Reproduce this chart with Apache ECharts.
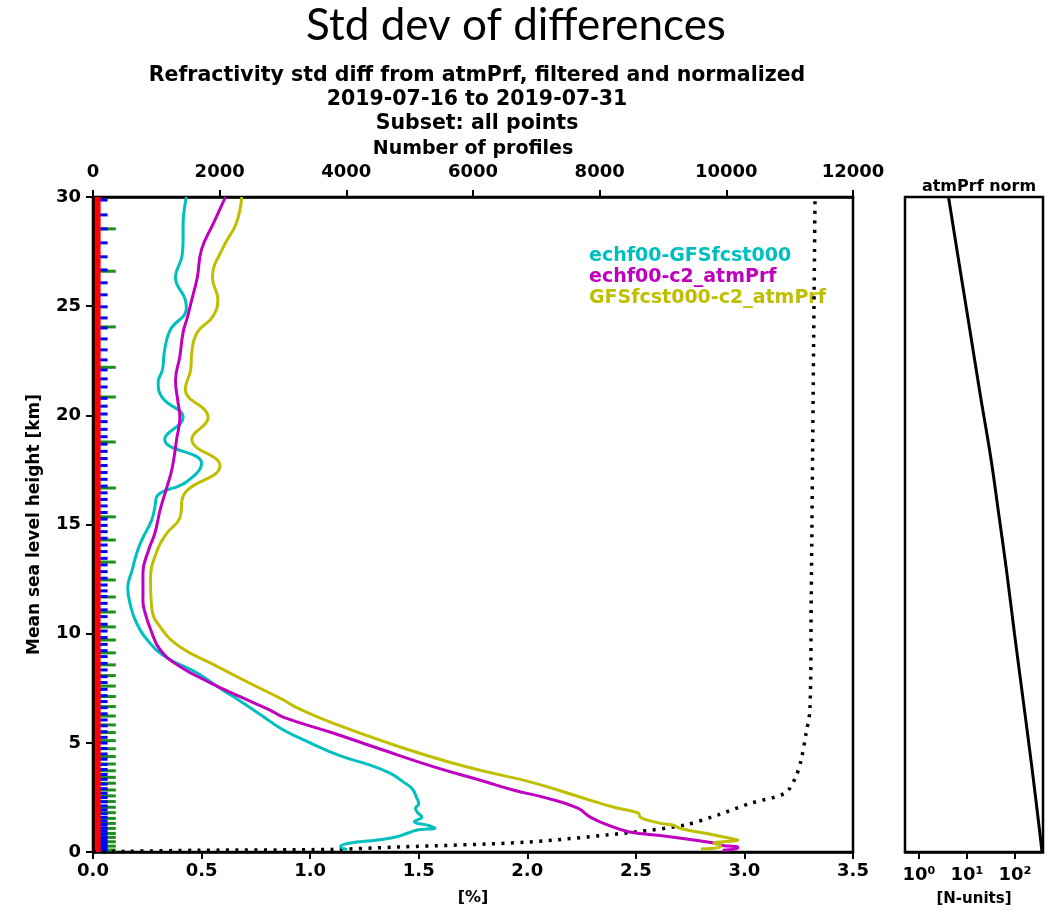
<!DOCTYPE html>
<html>
<head>
<meta charset="utf-8">
<title>Std dev of differences</title>
<script src="https://cdn.jsdelivr.net/npm/echarts@6/dist/echarts.min.js"></script>
<style>
  html, body { margin: 0; padding: 0; background: #ffffff; }
  #chart { width: 1058px; height: 912px; }
</style>
</head>
<body>
<div id="chart"></div>
<script>
// ---- data -------------------------------------------------------------
// Normalized refractivity std differences: [height km, std diff %]
const cyanProfile = [
  [0.1, 1.17], [0.25, 1.14], [0.4, 1.18], [0.55, 1.31], [0.7, 1.40], [0.87, 1.45],
  [1.0, 1.49], [1.1, 1.575], [1.2, 1.55], [1.4, 1.48], [1.6, 1.515], [1.8, 1.495],
  [2.0, 1.485], [2.2, 1.50], [2.5, 1.49], [2.9, 1.47], [3.2, 1.43], [3.6, 1.37],
  [4.0, 1.27], [4.4, 1.14], [5.0, 1.0], [5.6, 0.875], [6.3, 0.77], [7.0, 0.665],
  [7.4, 0.60], [8.2, 0.48], [8.9, 0.34], [9.6, 0.26], [10.5, 0.20],
  [11.4, 0.17], [12.1, 0.16], [12.9, 0.18], [13.8, 0.205], [14.4, 0.23], [15.2, 0.27],
  [15.8, 0.285], [16.3, 0.295], [16.95, 0.43], [17.8, 0.50], [18.9, 0.33], [19.9, 0.415],
  [20.8, 0.32], [21.5, 0.30], [22.1, 0.32], [23.0, 0.33], [23.9, 0.355], [24.9, 0.43],
  [25.3, 0.425], [26.3, 0.38], [27.3, 0.41], [28.0, 0.415], [28.8, 0.415], [29.4, 0.42],
  [30.0, 0.43]
];
const magentaProfile = [
  [0.08, 2.90], [0.15, 2.96], [0.22, 2.97], [0.3, 2.90], [0.41, 2.86], [0.73, 2.63],
  [0.92, 2.47], [1.24, 2.37], [1.6, 2.29], [2.02, 2.23], [2.47, 2.09], [2.84, 1.935],
  [3.3, 1.78], [3.9, 1.57], [4.67, 1.336], [5.45, 1.105], [6.18, 0.875], [6.5, 0.815],
  [7.1, 0.68], [7.75, 0.54], [8.5, 0.40], [9.25, 0.31], [10.2, 0.265], [10.95, 0.24],
  [11.5, 0.23], [12.8, 0.23], [13.8, 0.255], [14.6, 0.285], [15.7, 0.31], [16.7, 0.34],
  [17.6, 0.365], [18.9, 0.385], [19.9, 0.40], [20.7, 0.39], [21.6, 0.38], [22.7, 0.40],
  [23.8, 0.415], [24.5, 0.435], [25.3, 0.455], [26.3, 0.48], [27.6, 0.50], [28.8, 0.555],
  [30.0, 0.61]
];
const yellowProfile = [
  [0.14, 2.80], [0.23, 2.89], [0.3, 2.89], [0.41, 2.86], [0.45, 2.88], [0.55, 2.97],
  [0.6, 2.95], [0.78, 2.86], [1.0, 2.74], [1.1, 2.70], [1.24, 2.67], [1.3, 2.62],
  [1.47, 2.55], [1.6, 2.52], [1.79, 2.51], [2.06, 2.395], [2.52, 2.243], [3.21, 2.013],
  [3.89, 1.723], [4.81, 1.414], [5.9, 1.105], [6.6, 0.94], [7.0, 0.87], [7.74, 0.72],
  [8.66, 0.54], [9.4, 0.40], [10.3, 0.31], [11.2, 0.27], [12.5, 0.265], [13.8, 0.295],
  [14.6, 0.34], [15.3, 0.40], [16.3, 0.415], [17.7, 0.585], [18.9, 0.455], [19.9, 0.53],
  [21.2, 0.425], [22.1, 0.45], [22.9, 0.455], [23.8, 0.48], [24.5, 0.55], [25.3, 0.575],
  [26.3, 0.55], [27.7, 0.60], [28.8, 0.66], [30.0, 0.685]
];

// Number of profiles reaching each height: [profiles, height km]
const profileCount = [
  [0, 0.0], [500, 0.03], [1685, 0.08], [3780, 0.12], [4835, 0.23], [6880, 0.46],
  [8570, 0.92], [9350, 1.24], [9870, 1.7], [10390, 2.24], [10930, 2.7], [11090, 3.4],
  [11180, 4.2], [11260, 5.45], [11320, 6.5], [11340, 11.5], [11370, 20.7], [11400, 29.9]
];

// Rejected-profile counts per level (top axis)
const redBand = [[120, 0, 30]]; // [profiles, bottom km, top km]
const blueLevels = [
  0.06, 0.15, 0.25, 0.35, 0.46, 0.58, 0.7, 0.83, 0.97, 1.11, 1.26, 1.42, 1.58, 1.75,
  1.93, 2.11, 2.3, 2.49, 2.69, 2.9, 3.11, 3.33, 3.55, 3.78, 4.01, 4.25, 4.49, 4.74,
  4.99, 5.25, 5.51, 5.78, 6.05, 6.33, 6.61, 6.89, 7.16, 7.45, 7.76, 8.03, 8.34, 8.64,
  8.95, 9.22, 9.51, 9.82, 10.12, 10.43, 10.78, 11.09, 11.39, 11.7, 11.96, 12.23, 12.54,
  12.84, 13.15, 13.45, 13.76, 14.06, 14.37, 14.67, 14.96, 15.25, 15.55, 15.85, 16.15,
  16.45, 16.76, 17.07, 17.38, 17.7, 18.02, 18.35, 18.68, 19.02, 19.36, 19.71, 20.06,
  20.42, 20.78, 21.3, 21.67, 22.08, 22.54, 23.0, 23.5, 24.0, 24.46, 24.97, 25.52,
  26.07, 26.66, 27.26, 27.9, 28.54, 29.18, 29.86
];
const blueCounts = [
  230, 230, 230, 230, 230, 230, 230, 230, 230, 230, 230, 230, 230, 230,
  230, 230, 230, 230, 230, 230, 230, 230, 230, 230, 230, 230, 230, 230,
  230, 230, 230, 230, 230, 230, 230, 230, 230, 230, 230, 230, 230, 230,
  230, 230, 230, 230, 230, 230, 230, 230, 230, 230, 230, 230, 230,
  230, 230, 230, 230, 230, 230, 230, 230, 230, 230, 230, 230,
  230, 230, 230, 230, 230, 230, 230, 230, 230, 230, 230, 230,
  230, 230, 230, 230, 230, 230, 230, 230, 230, 230, 230, 230,
  230, 230, 230, 230, 230, 230, 230
];
const greenLevels = [
  0.09, 0.27, 0.47, 0.67, 0.85, 1.08, 1.31, 1.54, 1.8, 2.05, 2.31, 2.57, 2.84, 3.15,
  3.42, 3.72, 4.03, 4.37, 4.73, 5.1, 5.47, 5.82, 6.23, 6.66, 7.12, 7.6, 8.08, 8.57,
  9.12, 9.71, 10.31, 10.99, 11.68, 12.46, 13.28, 14.29, 15.35, 16.67, 18.78, 20.84,
  22.2, 24.05, 26.6, 28.54
];
const greenCounts = [
  360, 360, 360, 360, 360, 360, 360, 360, 360, 360, 360, 360, 360, 360,
  360, 360, 360, 360, 360, 360, 360, 360, 360, 360, 360, 360, 360, 360,
  360, 360, 360, 360, 360, 360, 360, 360, 360, 360, 360, 360,
  360, 360, 360, 360
];

// atmPrf refractivity profile: [N-units, height km]
const atmPrfNorm = [
  [365, 0.0], [324, 1.0], [221, 4.0], [147, 7.0], [97.5, 10.0], [65.6, 13.0],
  [45, 15.6], [31.6, 18.0], [18.7, 21.0], [11.3, 24.0], [6.8, 27.0], [4.12, 30.0]
];

// Axis ticks
const pctTicks = { min: 0, max: 3.5, step: 0.5 };
const profTicks = { min: 0, max: 12000, step: 2000 };
const heightTicks = { min: 0, max: 30, step: 5 };
const normTicks = [1, 10, 100];

const seriesNames = ['echf00-GFSfcst000', 'echf00-c2_atmPrf', 'GFSfcst000-c2_atmPrf'];
const seriesColors = ['#00bfbf', '#bf00bf', '#bfbf00'];

// ---- chart ------------------------------------------------------------
const FONT = 'DejaVu Sans';
const chart = echarts.init(document.getElementById('chart'), null, { renderer: 'canvas' });

const swap = arr => arr.map(p => [p[1], p[0]]);
const sup = { '0': '\u2070', '1': '\u00b9', '2': '\u00b2', '3': '\u00b3' };

function levelBar(color, half) {
  return function (params, api) {
    const h = api.value(1);
    const a = api.coord([0, h]);
    const b = api.coord([api.value(0), h]);
    return {
      type: 'rect',
      shape: { x: a[0], y: a[1] - half, width: b[0] - a[0], height: half * 2 },
      style: { fill: color }
    };
  };
}
function bandBar(color) {
  return function (params, api) {
    const a = api.coord([0, api.value(2)]);
    const b = api.coord([api.value(0), api.value(1)]);
    return {
      type: 'rect',
      shape: { x: a[0], y: a[1], width: b[0] - a[0], height: b[1] - a[1] },
      style: { fill: color }
    };
  };
}

const tickStyle = { show: true, inside: false, length: 7, lineStyle: { color: '#000', width: 2 } };
const lblStyle = { color: '#000', fontFamily: FONT, fontWeight: 'bold', fontSize: 18 };
const axLine = { show: true, onZero: false, lineStyle: { color: '#000', width: 2.5 } };

const option = {
  animation: false,
  backgroundColor: '#ffffff',
  textStyle: { fontFamily: FONT },
  title: [
    {
      text: 'Std dev of differences', left: 511, top: -1, textAlign: 'center',
      textStyle: { fontFamily: 'Lato', fontSize: 44, fontWeight: 'normal', color: '#000' }
    },
    {
      text: 'Refractivity std diff from atmPrf, filtered and normalized\n2019-07-16 to 2019-07-31\nSubset: all points',
      left: 472, top: 59, textAlign: 'center',
      textStyle: { fontFamily: FONT, fontSize: 20.5, fontWeight: 'bold', color: '#000', lineHeight: 24 }
    },
    {
      text: 'atmPrf norm', left: 974, top: 174, textAlign: 'center',
      textStyle: { fontFamily: FONT, fontSize: 16, fontWeight: 'bold', color: '#000' }
    }
  ],
  legend: {
    orient: 'vertical', left: 584, top: 246, icon: 'none', itemWidth: 0, itemHeight: 14,
    itemGap: 1, selectedMode: false, padding: 0,
    textStyle: { fontFamily: FONT, fontSize: 19, fontWeight: 'bold', lineHeight: 20, padding: 0 },
    data: seriesNames.map((n, i) => ({ name: n, textStyle: { color: seriesColors[i] } }))
  },
  grid: [
    { left: 93, top: 197, width: 760, height: 655, show: true, borderColor: '#000', borderWidth: 2.5, containLabel: false },
    { left: 905, top: 197, width: 138, height: 655, show: true, borderColor: '#000', borderWidth: 2.5, containLabel: false }
  ],
  xAxis: [
    {
      gridIndex: 0, type: 'value', position: 'bottom',
      min: pctTicks.min, max: pctTicks.max, interval: pctTicks.step,
      axisLine: axLine, axisTick: tickStyle, splitLine: { show: false },
      axisLabel: Object.assign({ margin: 10, formatter: v => v.toFixed(1) }, lblStyle),
      name: '[%]', nameLocation: 'middle', nameGap: 38,
      nameTextStyle: { color: '#000', fontFamily: FONT, fontWeight: 'bold', fontSize: 16 }
    },
    {
      gridIndex: 0, type: 'value', position: 'top',
      min: profTicks.min, max: profTicks.max, interval: profTicks.step,
      axisLine: axLine, axisTick: tickStyle, splitLine: { show: false },
      axisLabel: Object.assign({ margin: 16, formatter: v => String(v) }, lblStyle),
      name: 'Number of profiles', nameLocation: 'middle', nameGap: 37,
      nameTextStyle: { color: '#000', fontFamily: FONT, fontWeight: 'bold', fontSize: 19 }
    },
    {
      gridIndex: 1, type: 'log', logBase: 10, position: 'bottom', min: 0.511, max: 383,
      axisLine: axLine, splitLine: { show: false }, minorTick: { show: false },
      axisTick: Object.assign({ customValues: normTicks }, tickStyle),
      axisLabel: Object.assign({
        margin: 14, customValues: normTicks,
        formatter: v => '10' + String(Math.round(Math.log10(v))).split('').map(c => sup[c]).join('')
      }, lblStyle),
      name: '[N-units]', nameLocation: 'middle', nameGap: 40,
      nameTextStyle: { color: '#000', fontFamily: FONT, fontWeight: 'bold', fontSize: 15 }
    }
  ],
  yAxis: [
    {
      gridIndex: 0, type: 'value', z: 10,
      min: heightTicks.min, max: heightTicks.max, interval: heightTicks.step,
      axisLine: axLine, axisTick: tickStyle, splitLine: { show: false },
      axisLabel: Object.assign({ margin: 12 }, lblStyle),
      name: 'Mean sea level height [km]', nameLocation: 'middle', nameGap: 50, nameRotate: 90,
      nameTextStyle: { color: '#000', fontFamily: FONT, fontWeight: 'bold', fontSize: 17 }
    },
    {
      gridIndex: 1, type: 'value', min: heightTicks.min, max: heightTicks.max,
      axisLine: { show: false }, axisTick: { show: false }, axisLabel: { show: false },
      splitLine: { show: false }
    }
  ],
  series: [
    {
      name: 'green levels', type: 'custom', xAxisIndex: 1, yAxisIndex: 0, z: 1,
      renderItem: levelBar('#1e8c1e', 1.5), encode: { x: 0, y: 1 },
      data: greenLevels.map((h, i) => [greenCounts[i], h])
    },
    {
      name: 'blue levels', type: 'custom', xAxisIndex: 1, yAxisIndex: 0, z: 2,
      renderItem: levelBar('#0000ff', 1.5), encode: { x: 0, y: 1 },
      data: blueLevels.map((h, i) => [blueCounts[i], h])
    },
    {
      name: 'red levels', type: 'custom', xAxisIndex: 1, yAxisIndex: 0, z: 3,
      renderItem: bandBar('#ff0000'), encode: { x: 0, y: [1, 2] },
      data: redBand
    },
    {
      name: 'profiles', type: 'line', xAxisIndex: 1, yAxisIndex: 0, z: 4,
      showSymbol: false, smooth: 0.3,
      lineStyle: { color: '#000', width: 3.5, type: [3, 6.5] },
      data: profileCount
    },
    {
      name: seriesNames[0], type: 'line', xAxisIndex: 0, yAxisIndex: 0, z: 5,
      showSymbol: false, smooth: 0.45, color: seriesColors[0],
      lineStyle: { color: seriesColors[0], width: 3 },
      data: swap(cyanProfile)
    },
    {
      name: seriesNames[1], type: 'line', xAxisIndex: 0, yAxisIndex: 0, z: 6,
      showSymbol: false, smooth: 0.45, color: seriesColors[1],
      lineStyle: { color: seriesColors[1], width: 3 },
      data: swap(magentaProfile)
    },
    {
      name: seriesNames[2], type: 'line', xAxisIndex: 0, yAxisIndex: 0, z: 7,
      showSymbol: false, smooth: 0.45, color: seriesColors[2],
      lineStyle: { color: seriesColors[2], width: 3 },
      data: swap(yellowProfile)
    },
    {
      name: 'atmPrf norm', type: 'line', xAxisIndex: 2, yAxisIndex: 1,
      showSymbol: false, smooth: 0.4,
      lineStyle: { color: '#000', width: 3 },
      data: atmPrfNorm
    }
  ]
};

chart.setOption(option);
</script>
</body>
</html>
